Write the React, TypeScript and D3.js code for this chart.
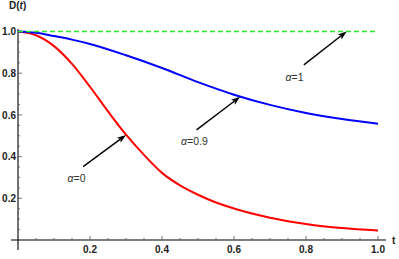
import React from "react";
import * as d3 from "d3";

const tRed = [0, 0.05, 0.1, 0.15, 0.2, 0.25, 0.3, 0.35, 0.4, 0.45, 0.5, 0.55, 0.6, 0.7, 0.8, 0.9, 1.0];
const dRed = [1.0, 0.982, 0.93, 0.845, 0.735, 0.617, 0.505, 0.408, 0.322, 0.262, 0.217, 0.18, 0.151, 0.107, 0.077, 0.057, 0.045];
const tBlue = [0, 0.05, 0.1, 0.15, 0.2, 0.3, 0.4, 0.5, 0.6, 0.7, 0.8, 0.9, 1.0];
const dBlue = [1.0, 0.994, 0.978, 0.961, 0.94, 0.886, 0.825, 0.757, 0.697, 0.648, 0.609, 0.58, 0.558];
const tGreen = [0, 1];
const dGreen = [1, 1];
const xTicks = [0.2, 0.4, 0.6, 0.8, 1.0];
const yTicks = [0.2, 0.4, 0.6, 0.8, 1.0];
const annLabels = ["0", "0.9", "1"];
const annTip: [number, number][] = [[0.3, 0.504], [0.617, 0.687], [0.913, 1.0]];
const annTail: [number, number][] = [[0.181, 0.352], [0.496, 0.528], [0.794, 0.84]];
const annText: [number, number][] = [[0.1625, 0.28], [0.49, 0.456], [0.768, 0.763]];

export default function App() {
  const W = 399, H = 259;
  const x = d3.scaleLinear().domain([0, 1]).range([18, 378]);
  const y = d3.scaleLinear().domain([0, 1]).range([240, 31.5]);
  const line = d3.line<[number, number]>().x(d => x(d[0])).y(d => y(d[1])).curve(d3.curveMonotoneX);
  const red = tRed.map((t, i) => [t, dRed[i]] as [number, number]);
  const blue = tBlue.map((t, i) => [t, dBlue[i]] as [number, number]);
  const green = tGreen.map((t, i) => [t, dGreen[i]] as [number, number]);
  const minor = d3.range(0.05, 1.001, 0.05);
  const font = "'Liberation Sans', Arial, sans-serif";
  const tickCol = "#222";

  const arrows = annTip.map((tip, i) => {
    const tail = annTail[i];
    const x1 = x(tail[0]), y1 = y(tail[1]), x2 = x(tip[0]), y2 = y(tip[1]);
    const ang = Math.atan2(y2 - y1, x2 - x1);
    const L = 9, Wd = 3.2;
    const bx = x2 - L * Math.cos(ang), by = y2 - L * Math.sin(ang);
    const px = -Math.sin(ang) * Wd, py = Math.cos(ang) * Wd;
    const nx = x2 - (L - 2) * Math.cos(ang), ny = y2 - (L - 2) * Math.sin(ang);
    return (
      <g key={i}>
        <line x1={x1} y1={y1} x2={nx} y2={ny} stroke="#000" strokeWidth={1.4} />
        <path d={`M${x2},${y2}L${bx + px},${by + py}L${nx},${ny}L${bx - px},${by - py}Z`} fill="#000" />
      </g>
    );
  });

  return (
    <svg width={W} height={H} style={{ position: "absolute", left: 0, top: 0 }}>
      <rect width={W} height={H} fill="#fff" />
      <line x1={11} x2={386} y1={y(0)} y2={y(0)} stroke="#000" strokeWidth={1.1} />
      <line x1={x(0)} x2={x(0)} y1={29} y2={250} stroke="#000" strokeWidth={1.1} />
      {minor.map((v, i) => {
        const major = Math.abs(v * 5 - Math.round(v * 5)) < 1e-6;
        return (
          <g key={i}>
            <line x1={x(v)} x2={x(v)} y1={y(0)} y2={y(0) - (major ? 4 : 2)} stroke="#555" strokeWidth={0.8} />
            <line x1={x(0)} x2={x(0) + (major ? 4 : 2)} y1={y(v)} y2={y(v)} stroke="#555" strokeWidth={0.8} />
          </g>
        );
      })}
      {xTicks.map((v, i) => (
        <text key={i} x={x(v)} y={253} textAnchor="middle" fontFamily={font} fontWeight="bold" fontSize={10} fill={tickCol}>
          {v.toFixed(1)}
        </text>
      ))}
      {yTicks.map((v, i) => (
        <text key={i} x={16} y={y(v) + 3.6} textAnchor="end" fontFamily={font} fontWeight="bold" fontSize={10} fill={tickCol}>
          {v.toFixed(1)}
        </text>
      ))}
      <text x={9} y={9} fontFamily={font} fontWeight="bold" fontSize={10} fill={tickCol}>
        D(<tspan fontStyle="italic">t</tspan>)
      </text>
      <text x={392} y={244} fontFamily={font} fontWeight="bold" fontSize={10} fill={tickCol}>t</text>
      <path d={line(red) || ""} fill="none" stroke="#ff0000" strokeWidth={2} />
      <path d={line(blue) || ""} fill="none" stroke="#0000ff" strokeWidth={2} />
      <path d={line(green) || ""} fill="none" stroke="#22ee22" strokeWidth={1.6} strokeDasharray="5,3" />
      {arrows}
      {annText.map((p, i) => (
        <text key={i} x={x(p[0])} y={y(p[1])} textAnchor="middle" fontFamily={font} fontSize={10.5} fill="#333">
          <tspan fontStyle="italic">α</tspan>={annLabels[i]}
        </text>
      ))}
    </svg>
  );
}
